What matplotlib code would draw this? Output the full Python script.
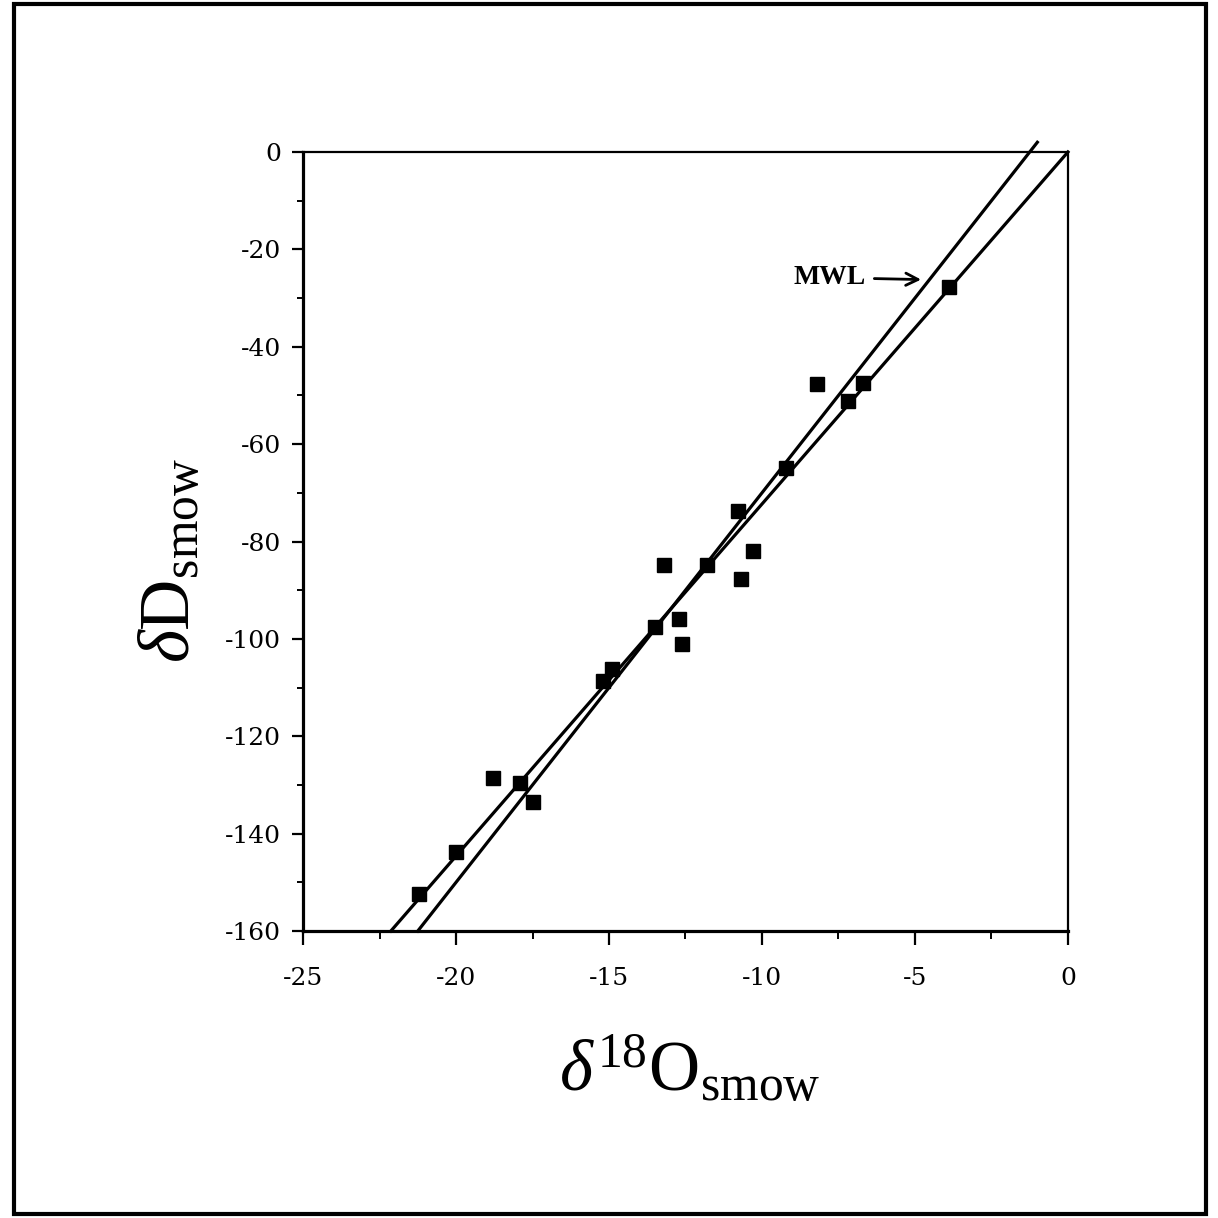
import numpy as np
import matplotlib
matplotlib.use("Agg")
import matplotlib.pyplot as plt
from matplotlib.patches import Rectangle

plt.rcParams['font.family'] = ['Liberation Serif', 'DejaVu Serif']
plt.rcParams['mathtext.fontset'] = 'custom'
plt.rcParams['mathtext.rm'] = 'Liberation Serif'
plt.rcParams['mathtext.it'] = 'Liberation Serif:italic'
plt.rcParams['axes.unicode_minus'] = False

# samples
d18o = [-21.2, -20.0, -18.8, -17.9, -17.5, -15.2, -14.9, -13.5, -13.2, -12.7,
        -12.6, -11.8, -10.8, -10.7, -10.3, -9.2, -8.2, -7.2, -6.7, -3.9]
dd = [-152.4, -143.7, -128.5, -129.6, -133.5, -108.6, -106.1, -97.6, -84.9, -95.9,
      -101.0, -84.8, -73.8, -87.6, -82.0, -64.9, -47.6, -51.1, -47.4, -27.7]

# meteoric water line  dD = 8*d18O + 10
mwl_slope, mwl_icpt = 8.0, 10.0
mwl_x = np.array([-21.25, -1.0])
# local fit line
fit_slope, fit_icpt = 7.23, 0.0
fit_x = np.array([-22.13, 0.0])

xticks = [-25, -20, -15, -10, -5, 0]
yticks = [0, -20, -40, -60, -80, -100, -120, -140, -160]

fig = plt.figure(figsize=(12.18, 12.18), dpi=100)
ax = fig.add_axes([0.2488, 0.2356, 0.628, 0.6396])

ax.plot(mwl_x, mwl_slope*mwl_x + mwl_icpt, color='k', lw=2.3, clip_on=False)
ax.plot(fit_x, fit_slope*fit_x + fit_icpt, color='k', lw=2.3, clip_on=False)
ax.plot(d18o, dd, 's', color='k', ms=9.5, clip_on=False)

ax.annotate("MWL", xy=(-4.8, -26.2), xytext=(-6.6, -25.8),
            ha='right', va='center', fontsize=20, fontweight='bold',
            arrowprops=dict(arrowstyle='->', lw=2.0, color='k',
                            mutation_scale=22, shrinkA=4, shrinkB=0))

ax.set_xlim(-25, 0)
ax.set_ylim(-160, 0)
ax.set_xticks(xticks)
ax.set_xticklabels([str(v) for v in xticks])
ax.set_yticks(yticks)
ax.set_yticklabels([str(v) for v in yticks])
ax.set_xticks(np.arange(-22.5, 0, 5), minor=True)
ax.set_yticks(np.arange(-150, 0, 20), minor=True)

ax.tick_params(axis='x', which='major', direction='out', length=10, width=1.6,
               labelsize=18, pad=16)
ax.tick_params(axis='x', which='minor', direction='out', length=6, width=1.4)
ax.tick_params(axis='y', which='major', direction='out', length=8, width=1.6,
               labelsize=18, pad=8)
ax.tick_params(axis='y', which='minor', direction='out', length=4, width=1.4)
for lab in ax.get_xticklabels() + ax.get_yticklabels():
    lab.set_family('DejaVu Serif')

ax.spines['left'].set_linewidth(2.3)
ax.spines['bottom'].set_linewidth(2.3)
ax.spines['top'].set_linewidth(1.6)
ax.spines['right'].set_linewidth(1.6)

fig.text(172/1218, 1-560/1218, r"$\delta$D$_{\rm smow}$", rotation=90,
         ha='center', va='center', fontsize=51)
fig.text(690/1218, 1-1070/1218, r"$\delta^{\rm 18}$O$_{\rm smow}$",
         ha='center', va='center', fontsize=51)

# page frame
fig.patches.append(Rectangle((14/1218, 4/1218), 1192/1218, 1210/1218,
                             transform=fig.transFigure, fill=False,
                             edgecolor='k', lw=3.0))

fig.savefig("out.png", dpi=100)
